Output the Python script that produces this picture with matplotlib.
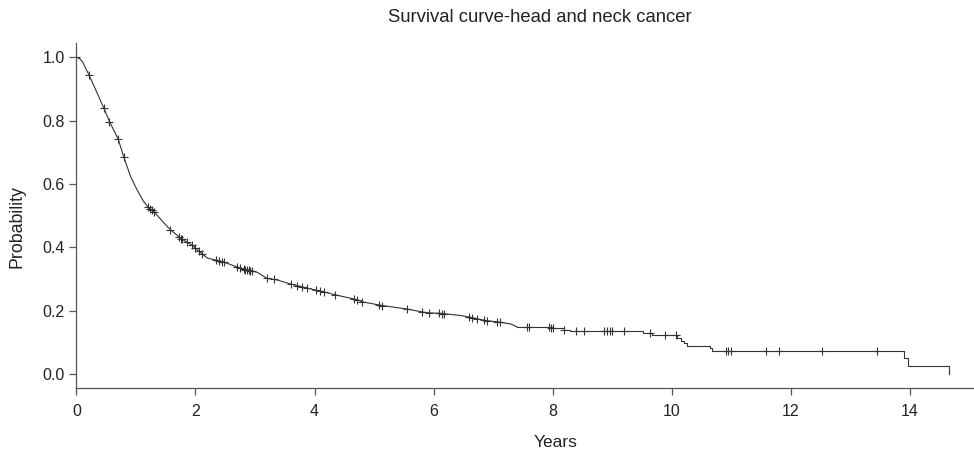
import matplotlib
matplotlib.use('Agg')
import matplotlib.pyplot as plt
import numpy as np

plt.rcParams['font.family'] = ['Liberation Sans', 'DejaVu Sans']

# smooth part of the Kaplan-Meier curve (events are dense here)
curve_t = [0.00, 0.05, 0.10, 0.21, 0.35, 0.46, 0.555, 0.70, 0.795, 0.91, 1.02, 1.12,
           1.215, 1.30, 1.45, 1.58, 1.75, 1.83, 1.94, 2.06, 2.20, 2.31, 2.48, 2.67,
           2.80, 3.04, 3.20, 3.37, 3.60, 3.88, 4.16, 4.35, 4.66, 4.83, 5.11, 5.56,
           5.78, 5.92, 6.09, 6.45, 6.62, 6.87, 7.10, 7.30, 7.41]
curve_s = [1.000, 0.996, 0.986, 0.944, 0.886, 0.839, 0.797, 0.742, 0.685, 0.623, 0.581, 0.547,
           0.524, 0.513, 0.481, 0.455, 0.429, 0.419, 0.407, 0.387, 0.366, 0.361, 0.353, 0.340,
           0.331, 0.321, 0.302, 0.297, 0.284, 0.271, 0.259, 0.250, 0.237, 0.227, 0.217, 0.205,
           0.197, 0.193, 0.192, 0.185, 0.179, 0.169, 0.164, 0.158, 0.148]

# tail with visible steps
tail_t = [7.41, 7.95, 8.19, 8.30, 9.52, 9.67, 10.09, 10.15, 10.20, 10.26, 10.64, 10.68,
          13.90, 13.97, 14.66]
tail_s = [0.148, 0.145, 0.139, 0.135, 0.129, 0.124, 0.114, 0.103, 0.097, 0.090, 0.082, 0.074,
          0.050, 0.024, 0.000]

# censored observations
censor_t = [0.0, 0.21, 0.46, 0.555, 0.70, 0.795, 1.20, 1.23, 1.27, 1.30, 1.58, 1.72, 1.76,
            1.78, 1.85, 1.94, 2.00, 2.06, 2.11, 2.34, 2.39, 2.45, 2.48, 2.70, 2.75, 2.81,
            2.84, 2.87, 2.90, 2.92, 2.95, 3.20, 3.32, 3.60, 3.71, 3.79, 3.88, 4.02, 4.10,
            4.16, 4.35, 4.66, 4.72, 4.80, 5.08, 5.14, 5.56, 5.81, 5.92, 6.09, 6.15, 6.18,
            6.59, 6.65, 6.73, 6.85, 6.90, 7.07, 7.11, 7.57, 7.61, 7.94, 7.97, 8.00, 8.19,
            8.39, 8.52, 8.86, 8.92, 8.97, 9.00, 9.20, 9.64, 9.89, 10.07, 10.91, 10.94,
            11.00, 11.58, 11.80, 12.53, 13.45]

fig = plt.figure(figsize=(9.74, 4.54), dpi=100)
ax = fig.add_axes([0.0785, 0.1454, 0.9215, 0.76])

col = '#333333'
ax.plot(curve_t, curve_s, color=col, linewidth=0.8)
ax.step(tail_t, tail_s, where='post', color=col, linewidth=0.8)

# y position of censor marks on the curve
ct = np.array(censor_t)
cs = np.interp(ct, curve_t, curve_s)
tail_idx = np.searchsorted(tail_t, ct, side='right') - 1
late = ct > curve_t[-1]
cs[late] = np.array(tail_s)[tail_idx[late]]
ax.plot(ct, cs, linestyle='none', marker='+', markersize=5.5, markeredgewidth=0.8, color=col)

ax.set_xlim(0, 15.08)
ax.set_ylim(-0.044, 1.045)
ax.set_xticks(np.arange(0, 15, 2))
ax.set_yticks([0.0, 0.2, 0.4, 0.6, 0.8, 1.0])
ax.set_yticklabels(['0.0', '0.2', '0.4', '0.6', '0.8', '1.0'])
for s in ['top', 'right']:
    ax.spines[s].set_visible(False)
for s in ['left', 'bottom']:
    ax.spines[s].set_color('#555555')
    ax.spines[s].set_linewidth(0.9)
ax.tick_params(direction='out', length=5, width=0.9, color='#555555', labelsize=11.5,
               labelcolor='#222222')
ax.tick_params(axis='x', pad=6.5)
ax.tick_params(axis='y', pad=3.5)

ax.set_xlabel('Years', fontsize=12.5, color='#222222')
ax.xaxis.set_label_coords(0.534, -0.157)
ax.xaxis.label.set_va('center')
ax.set_ylabel('Probability', fontsize=12.8, color='#222222')
ax.yaxis.set_label_coords(-0.0657, 0.468)
ax.yaxis.label.set_va('center')
fig.text(0.554, 0.962, 'Survival curve-head and neck cancer', fontsize=13.3, color='#222222',
         ha='center', va='center')

fig.savefig('out.png', dpi=100)
